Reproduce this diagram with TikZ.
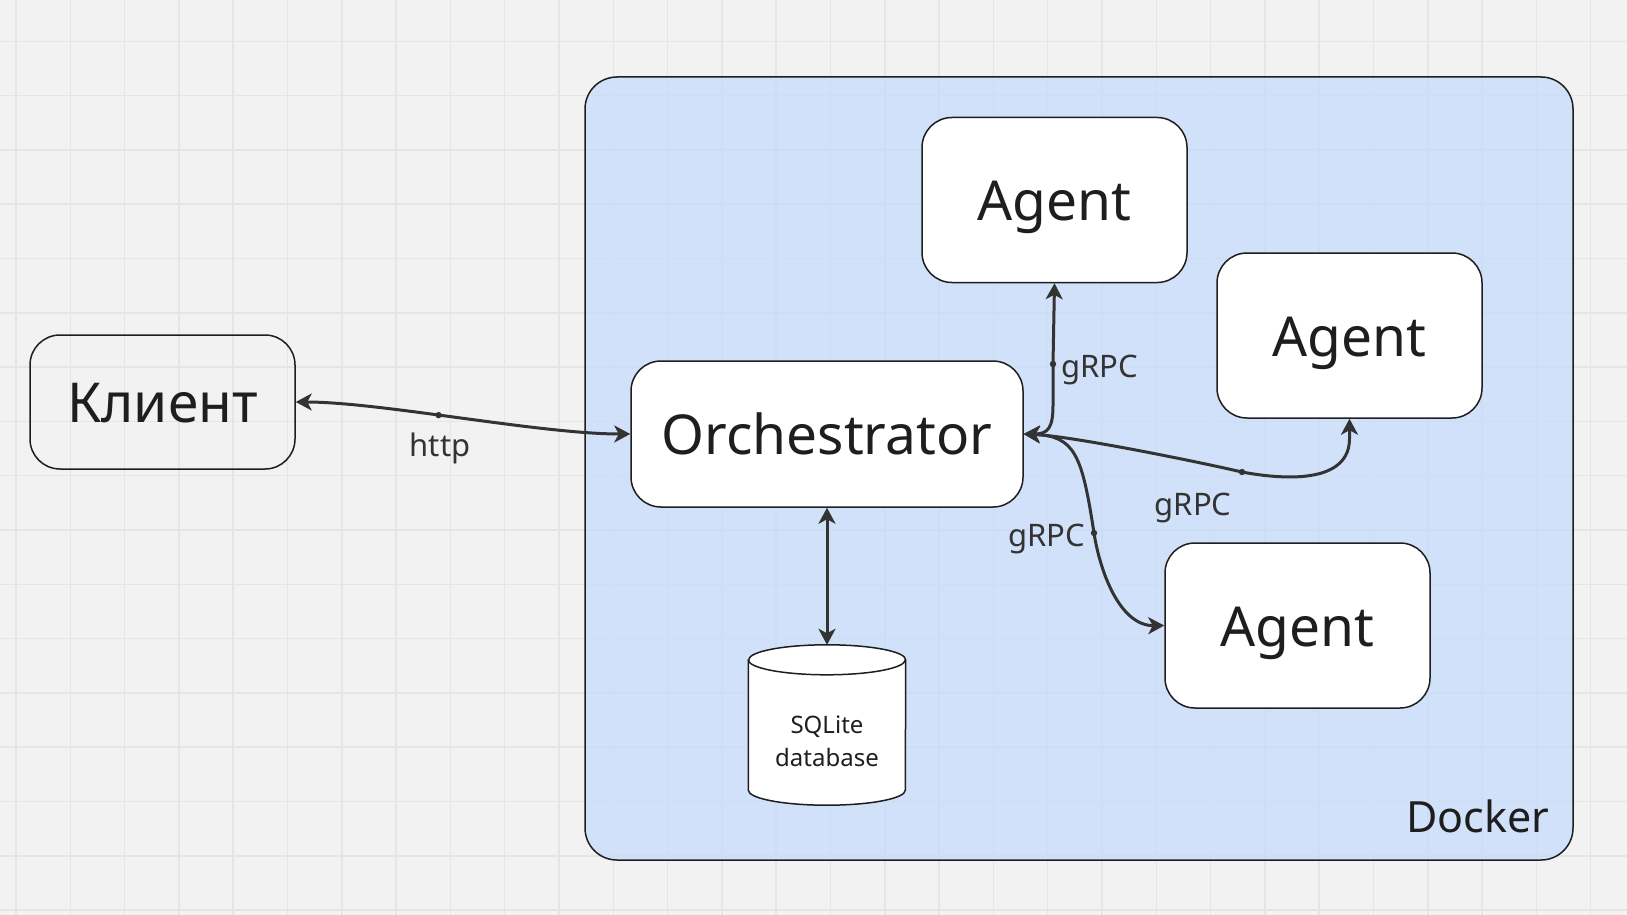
\documentclass[tikz,border=0pt]{standalone}
\usepackage{fontspec}
\setmainfont{Noto Sans}
\usetikzlibrary{arrows.meta}
\definecolor{canvas}{HTML}{F2F2F2}
\definecolor{gridcol}{HTML}{E5E5E5}
\definecolor{dockerblue}{HTML}{C4DBFD}
\definecolor{ink}{HTML}{333333}
\definecolor{textcol}{HTML}{1E1E1E}

\begin{document}
\begin{tikzpicture}[x=1pt,y=-1pt,
  box/.style={draw=textcol,line width=1.5pt,fill=white,rounded corners=30pt,
    minimum width=265pt,minimum height=165pt,inner sep=0pt,
    text height=41pt,text depth=0pt,
    text=textcol,font=\fontsize{55}{66}\selectfont},
  dbline/.style={draw=textcol,line width=1.5pt,fill=white},
  link/.style={draw=ink,line width=3pt,
    {Stealth[length=16pt,width=17pt,inset=4.5pt]}-{Stealth[length=16pt,width=17pt,inset=4.5pt]}},
  lbl/.style={text=ink,font=\fontsize{31}{37}\selectfont,inner sep=0pt},
  gridline/.style={draw=gridcol,line width=1.5pt}]
  \useasboundingbox (0,0) rectangle (1627,915);
  \fill[canvas] (0,0) rectangle (1627,915);
  \foreach \i in {0,...,29}
    \draw[gridline] ({16+54.3*\i},0) -- ++(0,915);
  \foreach \j in {0,...,16}
    \draw[gridline] (0,{41.3+54.3*\j}) -- ++(1627,0);

  \node[draw=textcol,line width=1.5pt,fill=dockerblue,fill opacity=0.7,
    rounded corners=32pt,minimum width=988pt,minimum height=783pt,inner sep=0pt]
    (docker) at (1079,468.5) {};
  \node[anchor=base east,inner sep=0pt,text=textcol,font=\fontsize{43}{52}\selectfont]
    (dockerlbl) at ([shift={(-24,-28)}]docker.south east) {Docker};

  \node[box,fill=none,minimum height=134pt] (client) at (162.5,402) {Клиент};
  \node[box,minimum width=392pt,minimum height=146pt] (orch) at (827,434) {Orchestrator};
  \node[box] (agent1) at (1054.5,200) {Agent};
  \node[box] (agent2) at (1349.5,335.5) {Agent};
  \node[box] (agent3) at (1297.5,625.5) {Agent};

  % database cylinder
  \node[minimum width=157pt,minimum height=160pt,inner sep=0pt] (db) at (827,725) {};
  \filldraw[dbline] ([yshift=-15]db.north west) -- ([yshift=15]db.south west)
    arc[start angle=180,end angle=0,x radius=78.5,y radius=15]
    -- ([yshift=-15]db.north east)
    arc[start angle=0,end angle=-180,x radius=78.5,y radius=15] -- cycle;
  \draw[dbline,fill=none] ([yshift=-15]db.north west)
    arc[start angle=180,end angle=0,x radius=78.5,y radius=15];
  \node[align=center,inner sep=0pt,text=textcol,font=\fontsize{24}{33}\selectfont]
    (dbtext) at ([yshift=-16]db.center) {SQLite\\database};

  % connectors
  \draw[link] (client.east) .. controls (380,402) and (540,434) .. (orch.west)
    coordinate[pos=0.44] (dhttp);
  \coordinate (d1) at (1053,364);
  \coordinate (d2) at (1242,472);
  \coordinate (d3) at (1094,533);
  \draw[link] (orch.east) .. controls (1048,434) and (1053,428) .. (1053,405)
    -- (d1) -- (agent1.south);
  \draw[link] (orch.east) .. controls (1070,436) and (1190,460) .. (d2)
    .. controls (1290,481) and (1350,482) .. (1349.5,438) -- (agent2.south);
  \draw[link] (orch.east) .. controls (1075,436) and (1082,455) .. (d3)
    .. controls (1100,572) and (1120,626) .. (agent3.west);
  \draw[link] (orch.south) -- (db.north);
  \foreach \d in {dhttp,d1,d2,d3}
    \fill[ink] (\d) circle (3.2);

  \node[lbl,anchor=base] (http) at (440,456) {http};
  \node[lbl,anchor=base west] (grpc1) at (1061,377) {gRPC};
  \node[lbl,anchor=base] (grpc2) at (1193,515) {gRPC};
  \node[lbl,anchor=base east] (grpc3) at (1085,546) {gRPC};
\end{tikzpicture}
\end{document}
